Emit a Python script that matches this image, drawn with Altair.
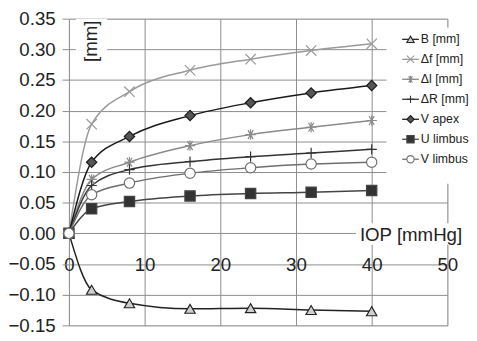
import altair as alt
import pandas as pd

# ---- data ----
iop = [0, 3, 8, 16, 24, 32, 40]
series_names = ["B [mm]", "Δf [mm]", "Δl [mm]", "ΔR [mm]", "V apex", "U limbus", "V limbus"]
B = [0, -0.092, -0.114, -0.123, -0.122, -0.125, -0.127]
d_f = [0, 0.178, 0.231, 0.266, 0.284, 0.298, 0.309]
d_l = [0, 0.088, 0.116, 0.143, 0.161, 0.173, 0.184]
d_R = [0, 0.078, 0.104, 0.117, 0.125, 0.131, 0.137]
v_apex = [0, 0.116, 0.158, 0.192, 0.213, 0.229, 0.241]
u_limbus = [0, 0.040, 0.052, 0.061, 0.065, 0.067, 0.070]
v_limbus = [0, 0.063, 0.082, 0.098, 0.107, 0.113, 0.116]
all_series = [B, d_f, d_l, d_R, v_apex, u_limbus, v_limbus]
y_ticks = [-0.15, -0.10, -0.05, 0.0, 0.05, 0.10, 0.15, 0.20, 0.25, 0.30, 0.35]
x_ticks = [0, 10, 20, 30, 40, 50]

rows = []
for name, vals in zip(series_names, all_series):
    for x, v in zip(iop, vals):
        rows.append({"series": name, "iop": x, "value": v})
df = pd.DataFrame(rows)
leg_df = pd.DataFrame({"series": series_names})

# ---- styles ----
X_PATH = "M-1,-1L1,1M-1,1L1,-1"
AST_PATH = "M-1,0L1,0M-0.5,-0.87L0.5,0.87M-0.5,0.87L0.5,-0.87M0,-1L0,1"
PLUS_PATH = "M-1,0L1,0M0,-1L0,1"
shapes = ["triangle-up", X_PATH, AST_PATH, PLUS_PATH, "diamond", "square", "circle"]
fills = ["#cfcfcf", "transparent", "transparent", "transparent", "#555555", "#333333", "#ffffff"]
strokes = ["#8a8a8a", "#a0a0a0", "#a0a0a0", "#555555", "#444444", "#333333", "#888888"]
line_colors = ["#222222", "#9a9a9a", "#8a8a8a", "#333333", "#1a1a1a", "#444444", "#6e6e6e"]
line_widths = [1.5, 1.5, 1.3, 1.5, 2.0, 1.3, 1.3]
sizes = [110, 110, 130, 130, 90, 80, 120]

FONT = "Liberation Sans"

def sc(rng):
    return alt.Scale(domain=series_names, range=rng)

x_axis = alt.Axis(values=x_ticks, title=None, grid=True,
                  gridColor="#8c8c8c", ticks=False, domain=False,
                  labelFontSize=19, labelColor="#222", labelFont=FONT,
                  labelPadding=23, offset=-94, labelFlush=False,
                  labelOverlap=False)
y_axis = alt.Axis(values=y_ticks, format=".2f", title=None, grid=True, gridColor="#8c8c8c",
                  tickColor="#8c8c8c", tickSize=7, domain=False,
                  labelFontSize=19, labelColor="#222", labelFont=FONT,
                  labelPadding=7, labelFlush=False, labelOverlap=False)

def xe():
    return alt.X("iop:Q", scale=alt.Scale(domain=[0, 50], nice=False), axis=x_axis)

def ye():
    return alt.Y("value:Q", scale=alt.Scale(domain=[-0.15, 0.35], nice=False), axis=y_axis)

base = alt.Chart(df)
lines = base.mark_line(interpolate="monotone").encode(
    x=xe(), y=ye(),
    stroke=alt.Stroke("series:N", scale=sc(line_colors), legend=None),
    strokeWidth=alt.StrokeWidth("series:N", scale=sc(line_widths), legend=None),
    detail="series:N",
)
points = base.mark_point(filled=False, opacity=1, strokeWidth=1.2).encode(
    x=xe(), y=ye(),
    shape=alt.Shape("series:N", scale=sc(shapes), legend=None),
    fill=alt.Fill("series:N", scale=sc(fills), legend=None),
    stroke=alt.Stroke("series:N", scale=sc(strokes), legend=None),
    size=alt.Size("series:N", scale=sc(sizes), legend=None),
)
main = alt.layer(lines, points)

# white boxes behind in-plot titles / legend
boxes_df = pd.DataFrame({"k": [0]})
box_mm = alt.Chart(boxes_df).mark_rect(fill="white").encode(
    x=alt.value(7), x2=alt.value(39), y=alt.value(0), y2=alt.value(50))
mm_text = alt.Chart(boxes_df).mark_text(text="[mm]", angle=270, fontSize=19, font=FONT,
                                         color="#222", align="center", baseline="middle").encode(
    x=alt.value(23), y=alt.value(23))
box_iop = alt.Chart(boxes_df).mark_rect(fill="white").encode(
    x=alt.value(292), x2=alt.value(400), y=alt.value(208), y2=alt.value(230))
iop_text = alt.Chart(boxes_df).mark_text(text="IOP [mmHg]", fontSize=19, font=FONT,
                                          color="#222", align="left", baseline="middle").encode(
    x=alt.value(296), y=alt.value(220))
box_leg = alt.Chart(boxes_df).mark_rect(fill="white").encode(
    x=alt.value(323), x2=alt.value(410), y=alt.value(9), y2=alt.value(168))

leg_y = alt.Y("series:N", scale=alt.Scale(domain=series_names, range=[21, 143], type="point", padding=0),
              axis=None)
leg_base = alt.Chart(leg_df)
leg_lines = leg_base.mark_rule(strokeWidth=1.3).encode(
    x=alt.value(339), x2=alt.value(356), y=leg_y,
    stroke=alt.Stroke("series:N", scale=sc(line_colors), legend=None),
)
leg_pts = leg_base.mark_point(filled=False, opacity=1, strokeWidth=1.1).encode(
    x=alt.value(347.5), y=leg_y,
    shape=alt.Shape("series:N", scale=sc(shapes), legend=None),
    fill=alt.Fill("series:N", scale=sc(fills), legend=None),
    stroke=alt.Stroke("series:N", scale=sc(strokes), legend=None),
    size=alt.value(55),
)
leg_text = leg_base.mark_text(align="left", baseline="middle", fontSize=12.5, font=FONT,
                              color="#222").encode(
    x=alt.value(358), y=leg_y, text="series:N")
legend = alt.layer(leg_lines, leg_pts, leg_text)

chart = alt.layer(main, box_mm, mm_text, box_iop, iop_text, box_leg, legend).resolve_scale(
    y="independent"
).properties(
    width=385, height=312,
    autosize=alt.AutoSizeParams(type="none"),
    padding={"left": 62, "top": 8, "right": 22, "bottom": 11},
).configure_view(stroke="#8c8c8c", strokeWidth=1).configure(background="white")

chart.save("out.html", embed_options={"renderer": "svg", "actions": False})
